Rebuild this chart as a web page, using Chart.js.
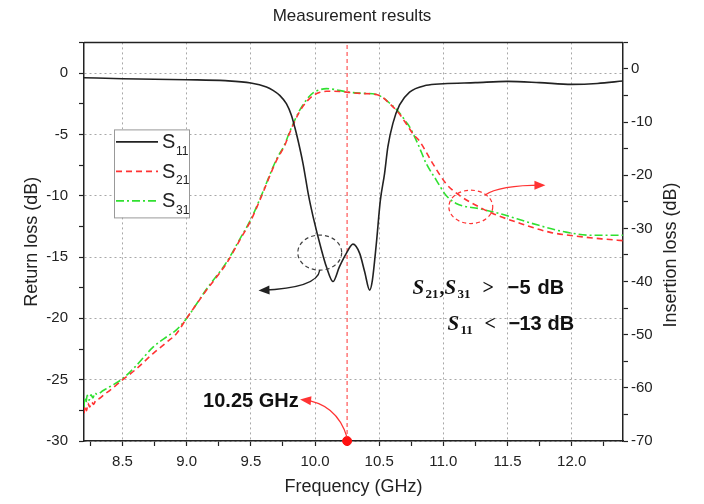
<!DOCTYPE html>
<html>
<head>
<meta charset="utf-8">
<title>Measurement results</title>
<script src="https://cdn.jsdelivr.net/npm/chart.js@4.4.0/dist/chart.umd.min.js"></script>
<style>
  html, body { margin: 0; padding: 0; background: #fff; }
</style>
</head>
<body>
<canvas id="chart" width="704" height="504"></canvas>
<script>
// S11, return loss (left axis, dB)
const s11Freq = [8.2, 8.5, 9.0, 9.3, 9.5, 9.622, 9.673, 9.725, 9.777, 9.816, 9.842, 9.868, 9.907, 9.95, 9.985,
  10.05, 10.089, 10.14, 10.19, 10.244, 10.296, 10.348, 10.387, 10.426, 10.447, 10.478, 10.509, 10.542, 10.568, 10.607,
  10.659, 10.737, 10.867, 11.0, 11.25, 11.5, 11.75, 12.0, 12.2, 12.4];
const s11Db = [-0.38, -0.46, -0.54, -0.62, -0.81, -1.14, -1.41, -1.82, -2.5, -3.44, -4.4, -5.5, -7.4, -10.0, -11.7,
  -14.4, -15.8, -17.0, -15.8, -14.7, -13.95, -14.7, -16.2, -17.7, -16.9, -13.9, -10.4, -8.2, -6.0, -4.1,
  -2.6, -1.55, -1.0, -0.87, -0.78, -0.68, -0.78, -0.92, -0.85, -0.65];

// S21, insertion loss (right axis, dB)
const s21Freq = [8.2, 8.21, 8.22, 8.23, 8.245, 8.26, 8.275, 8.29, 8.32, 8.36, 8.4, 8.5, 8.6, 8.74, 8.85, 8.92, 9.0,
  9.155, 9.31, 9.414, 9.5, 9.57, 9.7, 9.764, 9.803, 9.88, 9.94, 9.985, 10.04, 10.089, 10.15, 10.244, 10.35, 10.478,
  10.53, 10.58, 10.646, 10.711, 10.763, 10.815, 10.918, 11.022, 11.126, 11.282, 11.385, 11.567, 11.826, 12.085, 12.25, 12.4];
const s21Db = [-64.8, -63.4, -64.3, -62.9, -63.6, -62.7, -63.1, -62.4, -62.0, -61.2, -60.5, -58.5, -56.6, -53.5, -51.3, -49.8, -46.9,
  -41.6, -36.6, -32.2, -28.5, -24.7, -17.2, -14.4, -12.0, -8.0, -6.0, -5.0, -4.4, -4.2, -4.2, -4.35, -4.6, -4.8,
  -5.4, -6.5, -8.1, -10.3, -12.2, -13.6, -17.8, -21.6, -23.8, -26.0, -27.2, -28.8, -30.7, -31.6, -32.0, -32.3];

// S31, insertion loss (right axis, dB)
const s31Freq = [8.2, 8.205, 8.215, 8.225, 8.24, 8.255, 8.27, 8.285, 8.3, 8.35, 8.4, 8.5, 8.6, 8.74, 8.85, 8.92, 9.0,
  9.155, 9.31, 9.414, 9.5, 9.57, 9.7, 9.764, 9.803, 9.88, 9.94, 9.985, 10.04, 10.089, 10.15, 10.244, 10.35, 10.478,
  10.53, 10.58, 10.646, 10.711, 10.737, 10.8, 10.867, 10.945, 11.022, 11.1, 11.282, 11.437, 11.697, 11.956, 12.163, 12.4];
const s31Db = [-63.8, -61.9, -62.8, -61.4, -62.3, -61.3, -61.9, -61.0, -61.2, -60.5, -59.8, -58.3, -56.0, -52.3, -50.3, -49.1, -46.9,
  -41.4, -36.4, -32.0, -28.3, -24.5, -17.0, -14.2, -11.8, -7.8, -5.6, -4.5, -3.9, -3.7, -3.85, -4.3, -4.55, -4.8,
  -5.4, -6.4, -7.9, -10.0, -10.9, -14.0, -17.8, -20.9, -23.8, -25.3, -26.3, -27.2, -29.1, -30.7, -31.3, -31.3];

const markerFreq = 10.25;
const seriesNames = [['S', '11'], ['S', '21'], ['S', '31']];

const FONT = '"Liberation Sans", Arial, sans-serif';
const SERIF = '"Liberation Serif", "Times New Roman", serif';
const INK = '#222';
const GRID = '#a8a8a8';
const RED = '#ff3333';
const GREEN = '#30e030';

const toPts = (xs, ys) => xs.map((x, i) => ({ x, y: ys[i] }));
const onStep = (v, step) => Math.abs(v / step - Math.round(v / step)) < 1e-6;

// annotation anchors in data units (GHz, left-axis dB)
const notes = {
  blackRing: { f: 10.037, db: -14.64, rf: 0.171, rdb: 1.43 },
  blackArrow: [[10.037, -16.07], [10.021, -17.53], [9.583, -17.71]],
  redRing: { f: 11.214, db: -10.91, rf: 0.171, rdb: 1.36 },
  redArrow: [[11.321, -9.96], [11.437, -9.14], [11.772, -9.14]],
  dotArrow: [[markerFreq, -29.7], [10.167, -26.92], [9.907, -26.65]],
  freqLabel: [9.873, -27.2],
  specAnchor: [11.5, -18.02, -20.95]
};

function ring(ctx, chart, r, color) {
  const x = chart.scales.x, y = chart.scales.y;
  const cx = x.getPixelForValue(r.f), cy = y.getPixelForValue(r.db);
  const rx = Math.abs(x.getPixelForValue(r.f + r.rf) - cx);
  const ry = Math.abs(y.getPixelForValue(r.db + r.rdb) - cy);
  ctx.save();
  ctx.strokeStyle = color;
  ctx.lineWidth = 1.2;
  ctx.setLineDash([4, 3]);
  ctx.beginPath();
  ctx.ellipse(cx, cy, rx, ry, 0, 0, Math.PI * 2);
  ctx.stroke();
  ctx.restore();
}

function arrow(ctx, chart, pts, color) {
  const p = pts.map(d => [chart.scales.x.getPixelForValue(d[0]), chart.scales.y.getPixelForValue(d[1])]);
  ctx.save();
  ctx.strokeStyle = color;
  ctx.fillStyle = color;
  ctx.lineWidth = 1.3;
  ctx.setLineDash([]);
  ctx.beginPath();
  ctx.moveTo(p[0][0], p[0][1]);
  ctx.quadraticCurveTo(p[1][0], p[1][1], p[2][0], p[2][1]);
  ctx.stroke();
  const a = Math.atan2(p[2][1] - p[1][1], p[2][0] - p[1][0]);
  const tx = p[2][0] + Math.cos(a) * 3, ty = p[2][1] + Math.sin(a) * 3;
  const bx = tx - Math.cos(a) * 11, by = ty - Math.sin(a) * 11;
  ctx.beginPath();
  ctx.moveTo(tx, ty);
  ctx.lineTo(bx - Math.sin(a) * 4.5, by + Math.cos(a) * 4.5);
  ctx.lineTo(bx + Math.sin(a) * 4.5, by - Math.cos(a) * 4.5);
  ctx.closePath();
  ctx.fill();
  ctx.restore();
}

// pieces: [text, font, dx, dy] placed relative to an anchor
function pieces(ctx, list, x, y) {
  ctx.textAlign = 'left';
  ctx.textBaseline = 'alphabetic';
  list.forEach(p => {
    ctx.font = p[1];
    ctx.fillText(p[0], x + p[2], y + (p[3] || 0));
  });
}

const annotate = {
  id: 'annotate',
  beforeDatasetsDraw(chart) {
    const { ctx, chartArea: a } = chart;
    ctx.save();
    ctx.strokeStyle = INK;
    ctx.lineWidth = 1.5;
    ctx.beginPath();
    ctx.moveTo(a.left, a.top);
    ctx.lineTo(a.right, a.top);
    ctx.stroke();
    ctx.restore();
  },
  afterDatasetsDraw(chart) {
    const { ctx, chartArea: a } = chart;
    const x = chart.scales.x, y = chart.scales.y;

    ring(ctx, chart, notes.blackRing, '#444');
    ring(ctx, chart, notes.redRing, RED);
    arrow(ctx, chart, notes.blackArrow, INK);
    arrow(ctx, chart, notes.redArrow, RED);
    arrow(ctx, chart, notes.dotArrow, RED);

    ctx.save();
    ctx.fillStyle = '#111';
    ctx.font = 'bold 20px ' + FONT;
    ctx.textAlign = 'right';
    ctx.textBaseline = 'alphabetic';
    ctx.fillText('10.25 GHz', x.getPixelForValue(notes.freqLabel[0]), y.getPixelForValue(notes.freqLabel[1]));

    const sx = x.getPixelForValue(notes.specAnchor[0]);
    const l1 = y.getPixelForValue(notes.specAnchor[1]);
    const l2 = y.getPixelForValue(notes.specAnchor[2]);
    const sF = 'italic bold 21px ' + SERIF, subF = 'bold 13px ' + SERIF;
    const opF = 'bold 20px ' + SERIF, numF = 'bold 20px ' + FONT;
    pieces(ctx, [
      ['S', sF, -95], ['21', subF, -82, 4], [',', opF, -68], ['S', sF, -63], ['31', subF, -50, 4],
      ['>', opF, -25], ['\u2212', numF, 0], ['5', numF, 12], ['dB', numF, 30]
    ], sx, l1);
    pieces(ctx, [
      ['S', sF, -60], ['11', subF, -47, 4], ['<', opF, -23], ['\u2212', numF, 1], ['13', numF, 12], ['dB', numF, 40]
    ], sx, l2);
    ctx.restore();

    // legend box
    const lx = a.left + 30, ly = a.top + 87;
    ctx.save();
    ctx.fillStyle = '#fff';
    ctx.fillRect(lx, ly, 75, 88);
    ctx.strokeStyle = '#999';
    ctx.lineWidth = 1;
    ctx.strokeRect(lx + 0.5, ly + 0.5, 75, 88);
    chart.data.datasets.slice(1, 4).forEach((ds, i) => {
      const yy = ly + 12.5 + i * 29.5;
      ctx.strokeStyle = ds.borderColor;
      ctx.lineWidth = 1.6;
      ctx.setLineDash(ds.borderDash || []);
      ctx.beginPath();
      ctx.moveTo(lx + 2, yy);
      ctx.lineTo(lx + 44, yy);
      ctx.stroke();
      ctx.fillStyle = INK;
      ctx.font = '20px ' + FONT;
      ctx.textAlign = 'left';
      ctx.fillText(seriesNames[i][0], lx + 48, yy + 6.5);
      ctx.font = '12px ' + FONT;
      ctx.fillText(seriesNames[i][1], lx + 62, yy + 13);
    });
    ctx.restore();
  },
  afterDraw(chart) {
    const ctx = chart.ctx;
    const y2 = chart.scales.y2;
    ctx.save();
    ctx.translate(y2.right - 33, 255);
    ctx.rotate(-Math.PI / 2);
    ctx.fillStyle = INK;
    ctx.font = '18px ' + FONT;
    ctx.textAlign = 'center';
    ctx.textBaseline = 'middle';
    ctx.fillText('Insertion loss (dB)', 0, 0);
    ctx.restore();
  }
};

new Chart(document.getElementById('chart'), {
  type: 'line',
  data: {
    datasets: [
      {
        label: 'marker', data: [{ x: markerFreq, y: -30 }], yAxisID: 'y',
        showLine: false, pointRadius: 4.5, pointBackgroundColor: '#ff1010', pointBorderColor: '#ff1010', clip: false
      },
      {
        label: 'S11', data: toPts(s11Freq, s11Db), yAxisID: 'y',
        borderColor: INK, borderWidth: 1.6, pointRadius: 0, cubicInterpolationMode: 'monotone'
      },
      {
        label: 'S21', data: toPts(s21Freq, s21Db), yAxisID: 'y2',
        borderColor: RED, borderWidth: 1.6, borderDash: [6, 4], pointRadius: 0, cubicInterpolationMode: 'monotone'
      },
      {
        label: 'S31', data: toPts(s31Freq, s31Db), yAxisID: 'y2',
        borderColor: GREEN, borderWidth: 1.6, borderDash: [8, 3, 2, 3], pointRadius: 0, cubicInterpolationMode: 'monotone'
      },
      {
        label: '10.25 GHz', data: [{ x: markerFreq, y: -30 }, { x: markerFreq, y: 2.5 }], yAxisID: 'y',
        borderColor: RED, borderWidth: 1, borderDash: [4, 3], pointRadius: 0
      }
    ]
  },
  options: {
    responsive: false,
    animation: false,
    events: [],
    layout: { padding: 0 },
    plugins: {
      legend: { display: false },
      tooltip: { enabled: false },
      title: {
        display: true, text: 'Measurement results', color: INK,
        font: { family: FONT, size: 17, weight: 'normal' }, padding: { top: 6, bottom: 16 }
      }
    },
    scales: {
      x: {
        type: 'linear', min: 8.2, max: 12.4,
        ticks: {
          stepSize: 0.25, includeBounds: false, autoSkip: false, maxRotation: 0, padding: 7,
          color: INK, font: { family: FONT, size: 15 },
          callback: v => onStep(v, 0.5) ? v.toFixed(1) : ''
        },
        grid: {
          color: c => c.tick && onStep(c.tick.value, 0.5) ? GRID : 'rgba(0,0,0,0)',
          tickColor: INK, tickLength: 5, tickWidth: 1.2
        },
        border: { color: INK, width: 1.5, dash: [2, 3] },
        title: { display: true, text: 'Frequency (GHz)', color: INK, font: { family: FONT, size: 18 }, padding: { top: 0, bottom: 6 } },
        afterFit: s => { s.height = 63; }
      },
      y: {
        position: 'left', min: -30, max: 2.5,
        ticks: {
          stepSize: 2.5, includeBounds: false, autoSkip: false, padding: 11,
          color: INK, font: { family: FONT, size: 15 },
          callback: v => onStep(v, 5) ? String(v) : ''
        },
        grid: {
          color: c => c.tick && onStep(c.tick.value, 5) ? GRID : 'rgba(0,0,0,0)',
          tickColor: INK, tickLength: 5, tickWidth: 1.2
        },
        border: { color: INK, width: 1.5, dash: [2, 3] },
        title: { display: true, text: 'Return loss (dB)', color: INK, font: { family: FONT, size: 18 }, padding: { top: 21, bottom: 0 } },
        afterFit: s => { s.width = 84; }
      },
      y2: {
        position: 'right', min: -70, max: 5,
        ticks: {
          stepSize: 5, includeBounds: false, autoSkip: false, padding: 3,
          color: INK, font: { family: FONT, size: 15 },
          callback: v => onStep(v, 10) ? String(v) : ''
        },
        grid: { drawOnChartArea: false, tickColor: INK, tickLength: 5, tickWidth: 1.2 },
        border: { color: INK, width: 1.5 },
        afterFit: s => { s.width = 81; }
      }
    }
  },
  plugins: [annotate]
});
</script>
</body>
</html>
